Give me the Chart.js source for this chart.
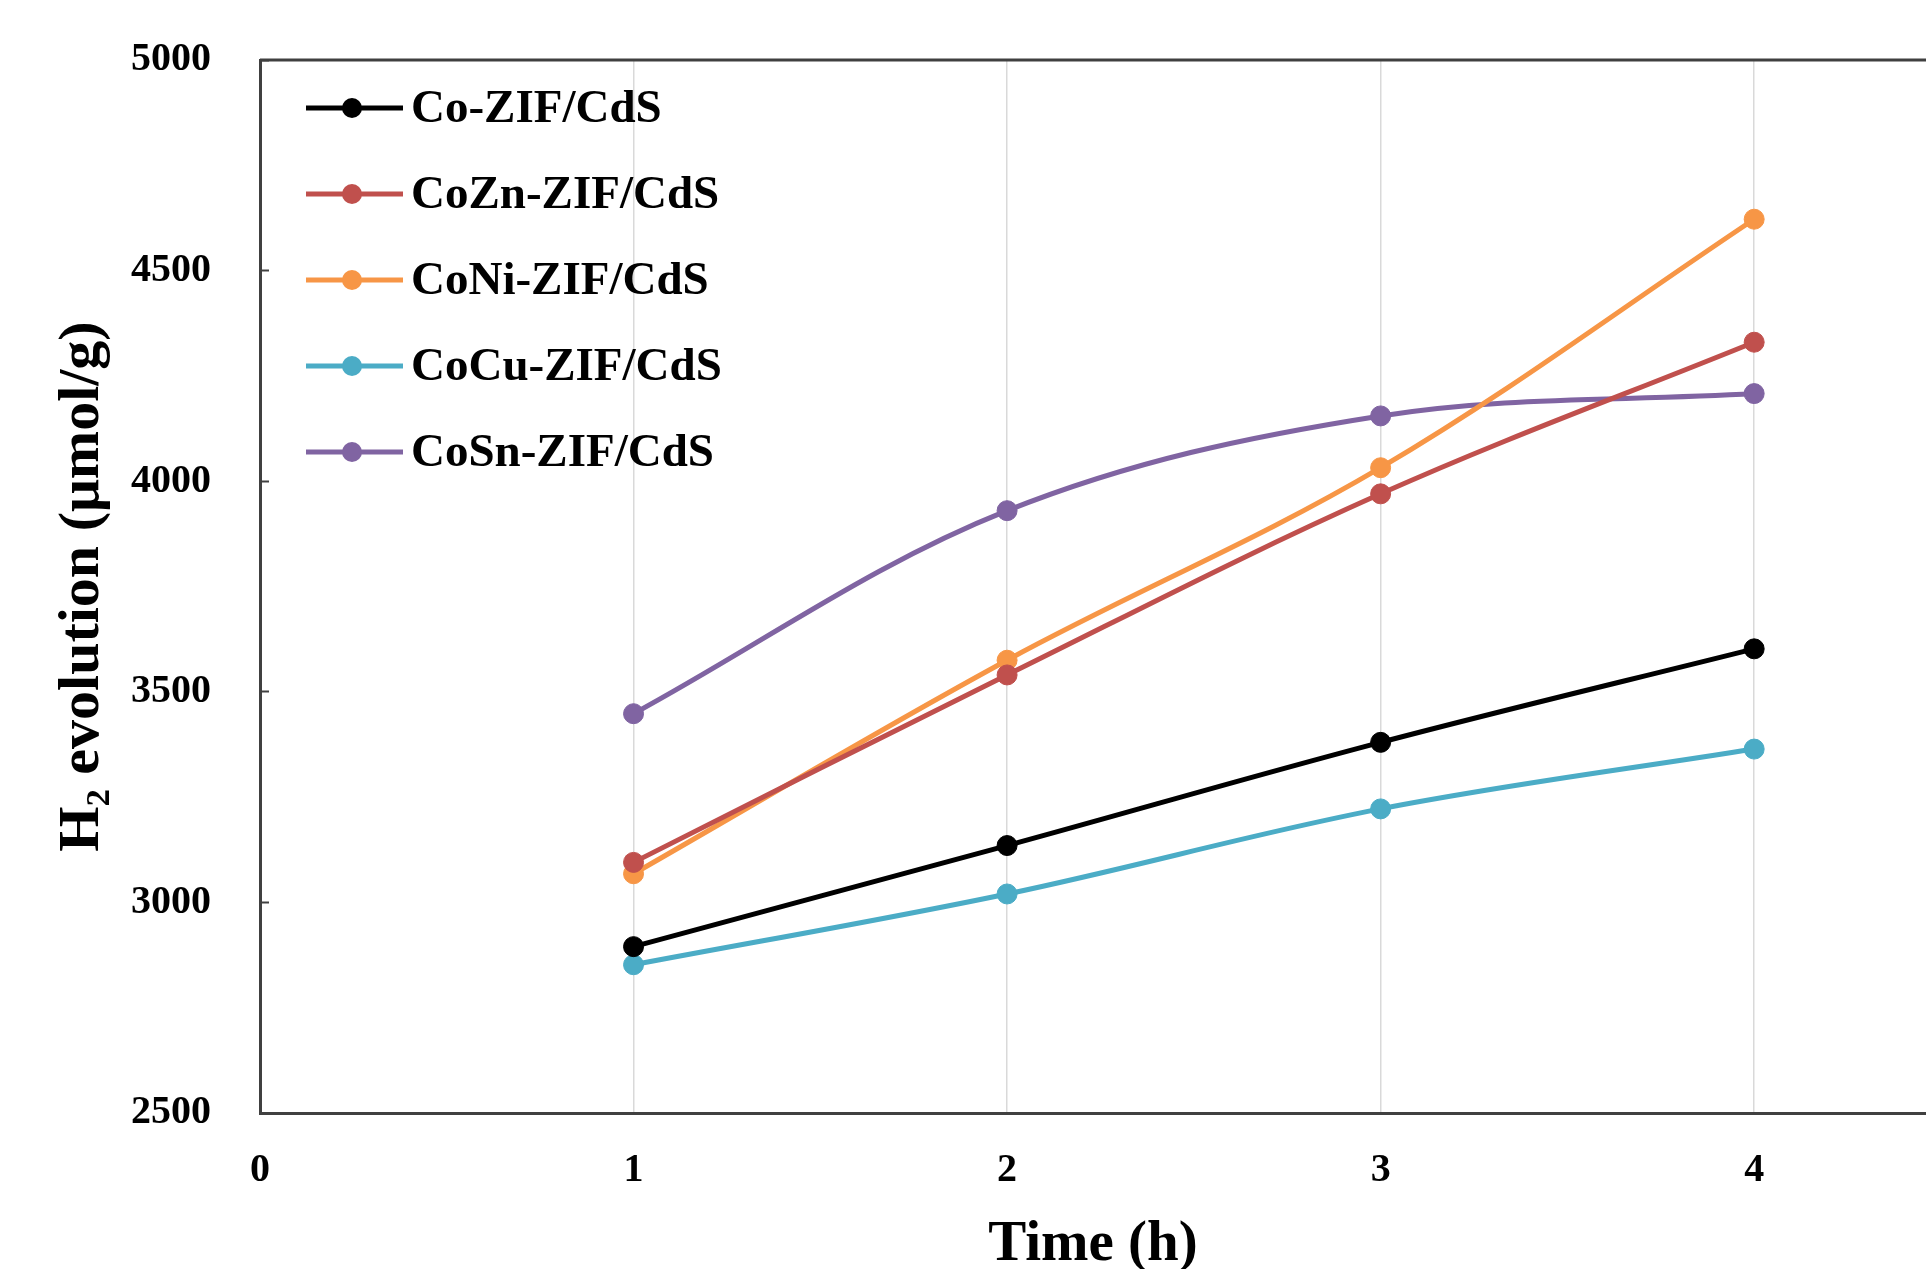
<!DOCTYPE html>
<html><head><meta charset="utf-8">
<script src="https://cdn.jsdelivr.net/npm/chart.js@4"></script>
<style>html,body{margin:0;padding:0;background:#fff;overflow:hidden}</style>
</head><body>
<canvas id="c" width="1926" height="1269"></canvas>
<script>
// ---- data ----
const times = [1, 2, 3, 4];
const seriesNames = ['Co-ZIF/CdS', 'CoZn-ZIF/CdS', 'CoNi-ZIF/CdS', 'CoCu-ZIF/CdS', 'CoSn-ZIF/CdS'];
const coZif = [2895, 3135, 3380, 3602];
const coZnZif = [3095, 3540, 3970, 4330];
const coNiZif = [3068, 3575, 4032, 4622];
const coCuZif = [2852, 3020, 3222, 3364];
const coSnZif = [3448, 3930, 4155, 4208];
const xTickValues = [0, 1, 2, 3, 4];
const yTickValues = [2500, 3000, 3500, 4000, 4500, 5000];
const xTitle = 'Time (h)';
const yTitle = 'H\u2082 evolution (\u03BCmol/g)';

const seriesValues = [coZif, coZnZif, coNiZif, coCuZif, coSnZif];
const colors = ['#000000', '#c0504d', '#f79646', '#4bacc6', '#8064a2'];
const FONT = "'Liberation Serif', 'Times New Roman', serif";

const datasets = seriesNames.map((name, i) => ({
  label: name,
  data: times.map((t, j) => ({x: t, y: seriesValues[i][j]})),
  borderColor: colors[i],
  backgroundColor: colors[i],
  pointBackgroundColor: colors[i],
  pointBorderColor: colors[i],
  pointRadius: 10,
  pointBorderWidth: 1,
  borderWidth: 5,
  tension: 0.35,
  fill: false
}));

const framePlugin = {
  id: 'frame',
  beforeDatasetsDraw(chart) {
    const {ctx, chartArea: a} = chart;
    ctx.save();
    ctx.strokeStyle = '#404040';
    ctx.lineWidth = 3;
    ctx.beginPath();
    ctx.moveTo(a.left, a.top);
    ctx.lineTo(a.right, a.top);
    ctx.stroke();
    ctx.restore();
  }
};

const innerLegend = {
  id: 'innerLegend',
  afterDatasetsDraw(chart) {
    const {ctx, chartArea: a} = chart;
    ctx.save();
    chart.data.datasets.forEach((ds, i) => {
      const y = a.top + 48 + i * 86;
      const x0 = a.left + 46, x1 = a.left + 143, xm = a.left + 92;
      ctx.strokeStyle = ds.borderColor;
      ctx.lineWidth = 5;
      ctx.beginPath(); ctx.moveTo(x0, y); ctx.lineTo(x1, y); ctx.stroke();
      ctx.fillStyle = ds.borderColor;
      ctx.beginPath(); ctx.arc(xm, y, 10, 0, Math.PI * 2); ctx.fill();
      ctx.fillStyle = '#000';
      ctx.font = 'bold 47px ' + FONT;
      ctx.textAlign = 'left';
      ctx.textBaseline = 'middle';
      ctx.fillText(ds.label, a.left + 151, y + 2);
    });
    ctx.restore();
  }
};

new Chart(document.getElementById('c'), {
  type: 'line',
  data: {datasets},
  options: {
    responsive: false,
    animation: false,
    layout: {autoPadding: false, padding: {top: 60, right: 0, bottom: 0, left: 0}},
    plugins: {legend: {display: false}, tooltip: {enabled: false}},
    scales: {
      x: {
        type: 'linear',
        min: 0,
        max: 4.46,
        afterFit(s) { s.height = 156; s.paddingLeft = 0; s.paddingRight = 0; },
        afterBuildTicks(s) { s.ticks = xTickValues.map(v => ({value: v})); },
        ticks: {
          includeBounds: false,
          stepSize: 1,
          padding: 34,
          color: '#000',
          font: {family: FONT, size: 40, weight: 'bold'},
          callback: v => String(v)
        },
        grid: {
          drawTicks: false,
          color: ctx => (ctx.tick && ctx.tick.value === 0) ? 'rgba(0,0,0,0)' : '#d9d9d9',
          lineWidth: 1.5
        },
        border: {display: true, color: '#404040', width: 3},
        title: {
          display: true,
          text: xTitle,
          color: '#000',
          font: {family: FONT, size: 57, weight: 'bold', lineHeight: 1},
          padding: {top: 0, bottom: -5}
        }
      },
      y: {
        type: 'linear',
        min: 2500,
        max: 5000,
        afterFit(s) { s.width = 260; s.paddingTop = 0; s.paddingBottom = 0; },
        afterBuildTicks(s) { s.ticks = yTickValues.map(v => ({value: v})); },
        ticks: {
          stepSize: 500,
          padding: 58,
          color: '#000',
          font: {family: FONT, size: 40, weight: 'bold'},
          callback: v => String(v)
        },
        grid: {
          drawOnChartArea: false,
          drawTicks: true,
          tickLength: -9,
          color: '#404040',
          tickWidth: 2
        },
        border: {display: true, color: '#404040', width: 3},
        title: {
          display: true,
          text: yTitle,
          color: '#000',
          font: {family: FONT, size: 58, weight: 'bold', lineHeight: 1},
          padding: {top: 54, bottom: 0}
        }
      }
    }
  },
  plugins: [framePlugin, innerLegend]
});
</script>
</body></html>
